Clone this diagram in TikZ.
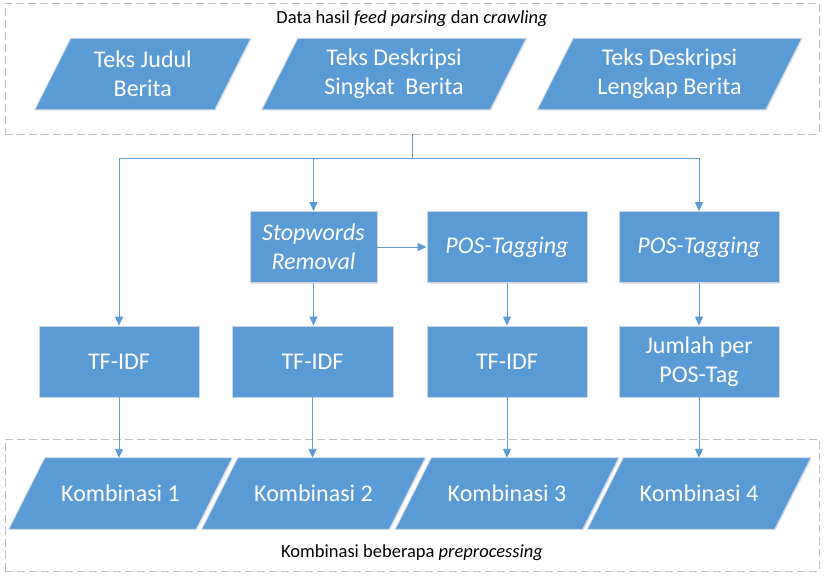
\documentclass[tikz,border=0pt]{standalone}
\usepackage{fontspec}
\setmainfont{Carlito}
\usetikzlibrary{arrows.meta,backgrounds,shadows,calc}
\definecolor{boxblue}{HTML}{5B9BD5}
\definecolor{edgegray}{HTML}{C9D6E6}
\definecolor{dashgray}{HTML}{BFBFBF}
\newcommand{\parabox}[5]{%
  \node[ptext, minimum width=#4pt] (#1) at (#2,#3) {#5};
  \begin{scope}[on background layer]
    \filldraw[parashape] ($(#1.north west)+(18,0)$) -- ($(#1.north east)+(18,0)$)
      -- ($(#1.south east)+(-18,0)$) -- ($(#1.south west)+(-18,0)$) -- cycle;
  \end{scope}}
\begin{document}
\begin{tikzpicture}[x=1pt,y=-1pt,
  boxfont/.style={font=\fontsize{24}{29}\selectfont},
  blk/.style={boxfont, fill=boxblue, draw=edgegray, line width=0.8pt, text=white,
    align=center, minimum width=160pt, minimum height=71pt, inner sep=0pt,
    drop shadow={opacity=0.2, shadow xshift=1pt, shadow yshift=-1pt}},
  ptext/.style={boxfont, text=white, align=center, minimum height=71pt, inner sep=0pt},
  parashape/.style={fill=boxblue, draw=edgegray, line width=0.8pt,
    drop shadow={opacity=0.2, shadow xshift=1pt, shadow yshift=-1pt}},
  line/.style={draw=boxblue, line width=0.9pt},
  conn/.style={line, -{Triangle[width=8pt,length=9pt]}},
  grp/.style={draw=dashgray, line width=0.9pt, dash pattern=on 8pt off 4pt,
    inner sep=0pt},
  lbl/.style={font=\fontsize{18.5}{22}\selectfont, text=black}]
\useasboundingbox (0,0) rectangle (826,583);
\begin{scope}[on background layer]
  \node[grp, minimum width=814pt, minimum height=131pt] (topgrp) at (412,68.5) {};
  \node[grp, minimum width=814pt, minimum height=132pt] (botgrp) at (412,505) {};
\end{scope}
\node[lbl] (toplbl) at (412,19) {Data hasil \textit{feed parsing} dan \textit{crawling}};
\node[lbl] (botlbl) at (412,553) {Kombinasi beberapa \textit{preprocessing}};
% input parallelograms
\parabox{p1}{142.75}{74}{179.5}{Teks Judul\\Berita}
\parabox{p2}{394}{74}{228}{Teks Deskripsi\\Singkat\ \ Berita}
\parabox{p3}{669.5}{74}{228}{Teks Deskripsi\\Lengkap Berita}
% process boxes
\node[blk, minimum width=127pt] (stop) at (313.5,247) {\textit{Stopwords}\\\textit{Removal}};
\node[blk] (pos1) at (507,247) {\textit{POS-Tagging}};
\node[blk] (pos2) at (699,247) {\textit{POS-Tagging}};
\node[blk] (tf1) at (119,361.5) {TF-IDF};
\node[blk, minimum width=161pt] (tf2) at (312.5,361.5) {TF-IDF};
\node[blk] (tf3) at (507,361.5) {TF-IDF};
\node[blk] (jml) at (699,361.5) {Jumlah per\\POS-Tag};
% output parallelograms
\parabox{k1}{120.5}{493.5}{187}{Kombinasi 1}
\parabox{k2}{313.5}{493.5}{187}{Kombinasi 2}
\parabox{k3}{507}{493.5}{187}{Kombinasi 3}
\parabox{k4}{699}{493.5}{187}{Kombinasi 4}
% connectors
\draw[line] (topgrp.south) -- ++(0,24) coordinate (split);
\draw[conn] (split) -| (tf1.north);
\draw[conn] (split) -| (stop.north);
\draw[conn] (split) -| (pos2.north);
\draw[conn] (stop.east) -- (pos1.west);
\draw[conn] (stop.south) -- (stop.south |- tf2.north);
\draw[conn] (pos1.south) -- (tf3.north);
\draw[conn] (pos2.south) -- (jml.north);
\draw[conn] (tf1.south) -- (tf1.south |- k1.north);
\draw[conn] (tf2.south) -- (tf2.south |- k2.north);
\draw[conn] (tf3.south) -- (k3.north);
\draw[conn] (jml.south) -- (k4.north);
\end{tikzpicture}
\end{document}
